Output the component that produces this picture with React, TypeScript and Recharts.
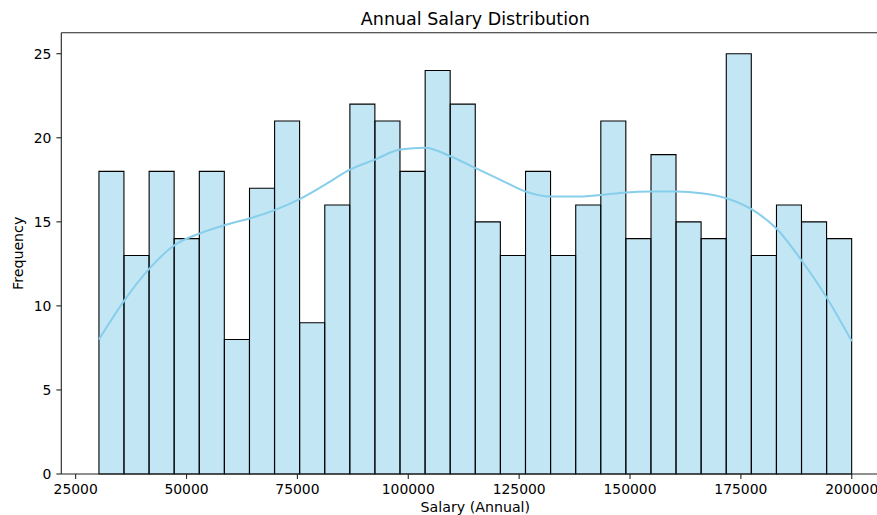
import React from 'react';
import { ComposedChart, Bar, Line, XAxis, YAxis } from 'recharts';

// histogram bin edges (30 bins)
const binEdges = [
  30250, 35908, 41567, 47225, 52883, 58542, 64200, 69858, 75517, 81175,
  86833, 92492, 98150, 103808, 109467, 115125, 120783, 126442, 132100, 137758,
  143417, 149075, 154733, 160392, 166050, 171708, 177367, 183025, 188683, 194342,
  200000,
];

const counts = [
  18, 13, 18, 14, 18, 8, 17, 21, 9, 16,
  22, 21, 18, 24, 22, 15, 13, 18, 13, 16,
  21, 14, 19, 15, 14, 25, 13, 16, 15, 14,
];

// kde curve, scaled to counts, sampled at the bin edges
const kdeValues = [
  8.0, 10.3, 12.2, 13.6, 14.3, 14.8, 15.2, 15.7, 16.35, 17.2,
  18.1, 18.7, 19.3, 19.4, 18.9, 18.2, 17.5, 16.8, 16.5, 16.5,
  16.6, 16.75, 16.8, 16.8, 16.7, 16.4, 15.75, 14.6, 12.7, 10.5,
  7.9,
];

const xTicks = [25000, 50000, 75000, 100000, 125000, 150000, 175000, 200000];
const yTicks = [0, 5, 10, 15, 20, 25];

const bins = counts.map((count, i) => ({
  center: (binEdges[i] + binEdges[i + 1]) / 2,
  count,
}));
const kde = binEdges.map((salary, i) => ({ salary, density: kdeValues[i] }));

const xDomain: [number, number] = [21762, 208488];
const FONT = '"DejaVu Sans", sans-serif';
const tickStyle = { fontFamily: FONT, fontSize: 13.9, fill: '#000' };
const spine = { stroke: '#222', strokeWidth: 1.1 };

const TitleLabel = ({ viewBox }: any) => (
  <text
    x={viewBox.x + viewBox.width / 2}
    y={viewBox.y + viewBox.height - 7.5}
    textAnchor="middle"
    fontFamily={FONT}
    fontSize={17.5}
    fill="#000"
  >
    Annual Salary Distribution
  </text>
);

const XLabel = ({ viewBox }: any) => (
  <text
    x={viewBox.x + viewBox.width / 2}
    y={viewBox.y + 38}
    textAnchor="middle"
    fontFamily={FONT}
    fontSize={14.2}
    fill="#000"
  >
    Salary (Annual)
  </text>
);

const YLabel = ({ viewBox }: any) => {
  const cx = 23.5;
  const cy = viewBox.y + viewBox.height / 2;
  return (
    <text
      x={cx}
      y={cy}
      transform={`rotate(-90 ${cx} ${cy})`}
      textAnchor="middle"
      fontFamily={FONT}
      fontSize={14.2}
      fill="#000"
    >
      Frequency
    </text>
  );
};

export default function App() {
  return (
    <div
      style={{
        position: 'fixed',
        left: 0,
        top: 0,
        width: 877,
        height: 515,
        overflow: 'hidden',
        background: '#fff',
      }}
    >
      <ComposedChart
        width={900}
        height={515}
        data={bins}
        margin={{ top: 0, right: 10.6, bottom: 0, left: 0 }}
        barCategoryGap={0}
        barGap={0}
      >
        <XAxis
          xAxisId="bins"
          dataKey="center"
          type="number"
          domain={xDomain}
          allowDataOverflow
          ticks={xTicks}
          interval={0}
          height={41}
          tickSize={4.9}
          tickMargin={5}
          tick={tickStyle}
          axisLine={spine}
          tickLine={spine}
          label={<XLabel />}
        />
        {/* top spine, carries the title */}
        <XAxis
          xAxisId="kde"
          dataKey="salary"
          type="number"
          orientation="top"
          domain={xDomain}
          allowDataOverflow
          height={32.7}
          tick={false}
          tickLine={false}
          axisLine={spine}
          label={<TitleLabel />}
        />
        <YAxis
          type="number"
          domain={[0, 26.25]}
          ticks={yTicks}
          interval={0}
          width={61.3}
          tickSize={4.9}
          tickMargin={5}
          tick={tickStyle}
          axisLine={spine}
          tickLine={spine}
          label={<YLabel />}
        />
        <Bar
          xAxisId="bins"
          dataKey="count"
          fill="#87CEEB"
          fillOpacity={0.5}
          stroke="#000"
          strokeWidth={1.1}
          isAnimationActive={false}
        />
        <Line
          xAxisId="kde"
          data={kde}
          dataKey="density"
          type="monotone"
          stroke="#87CEEB"
          strokeWidth={2}
          dot={false}
          activeDot={false}
          isAnimationActive={false}
        />
      </ComposedChart>
    </div>
  );
}
